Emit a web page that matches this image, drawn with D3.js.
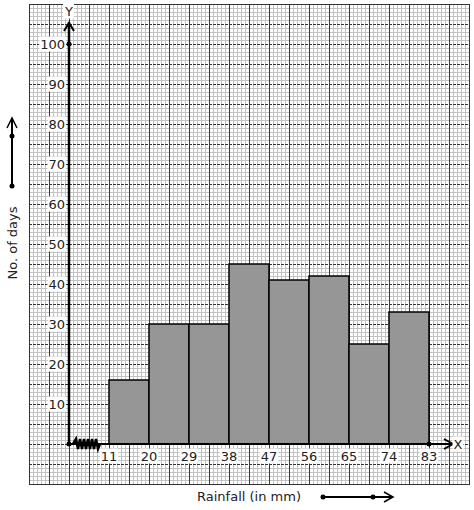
<!DOCTYPE html>
<html>
<head>
<meta charset="utf-8">
<script src="https://cdn.jsdelivr.net/npm/d3@7"></script>
<style>
  body { margin: 0; background: #fff; }
  text { font-family: "DejaVu Sans", sans-serif; fill: #222; }
</style>
</head>
<body>
<div id="chart"></div>
<script>
// class boundaries (mm) and number of days per class
var bounds = [11, 20, 29, 38, 47, 56, 65, 74, 83];
var days = [16, 30, 30, 45, 41, 42, 25, 33];
var yTicks = [10, 20, 30, 40, 50, 60, 70, 80, 90, 100];

var width = 474, height = 510;
var svg = d3.select('#chart').append('svg')
  .attr('width', width).attr('height', height);

// graph paper
var paper = {x0: 29, y0: 4, x1: 469, y1: 484};
var g = svg.append('g');
d3.range(paper.x0, paper.x1 + 1, 4).forEach(function (x, i) {
  if (i % 5 == 0) return;
  g.append('line').attr('x1', x + 0.5).attr('x2', x + 0.5)
    .attr('y1', paper.y0).attr('y2', paper.y1)
    .attr('stroke', '#c2c2c2').attr('stroke-width', 1);
});
d3.range(paper.y0, paper.y1 + 1, 4).forEach(function (y, i) {
  if (i % 5 == 0) return;
  g.append('line').attr('y1', y + 0.5).attr('y2', y + 0.5)
    .attr('x1', paper.x0).attr('x2', paper.x1)
    .attr('stroke', '#c2c2c2').attr('stroke-width', 1);
});
d3.range(paper.x0, paper.x1 + 1, 20).forEach(function (x) {
  g.append('line').attr('x1', x + 0.5).attr('x2', x + 0.5)
    .attr('y1', paper.y0).attr('y2', paper.y1)
    .attr('stroke', '#3a3a3a').attr('stroke-width', 1);
});
d3.range(paper.y0, paper.y1 + 1, 20).forEach(function (y) {
  g.append('line').attr('y1', y + 0.5).attr('y2', y + 0.5)
    .attr('x1', paper.x0).attr('x2', paper.x1)
    .attr('stroke', '#333').attr('stroke-width', 1)
    .attr('stroke-dasharray', '3,1');
});
g.append('rect').attr('x', paper.x0 + 0.5).attr('y', paper.y0 + 0.5)
  .attr('width', paper.x1 - paper.x0).attr('height', paper.y1 - paper.y0)
  .attr('fill', 'none').attr('stroke', '#333');

var x = d3.scaleLinear().domain([11, 83]).range([109, 429]);
var y = d3.scaleLinear().domain([0, 100]).range([444, 44]);
var ox = 69;

// bars
svg.selectAll('.bar')
  .data(days)
  .enter().append('rect')
  .attr('class', 'bar')
  .attr('x', function (d, i) { return x(bounds[i]); })
  .attr('y', function (d) { return y(d); })
  .attr('width', function (d, i) { return x(bounds[i + 1]) - x(bounds[i]); })
  .attr('height', function (d) { return y(0) - y(d); })
  .attr('fill', '#969696').attr('stroke', '#000').attr('stroke-width', 1.5);

// axes
svg.append('line').attr('x1', ox).attr('x2', ox).attr('y1', y(0)).attr('y2', 22)
  .attr('stroke', '#000').attr('stroke-width', 2.5);
svg.append('path').attr('d', 'M' + (ox - 5) + ',31 L' + ox + ',23 L' + (ox + 5) + ',31')
  .attr('fill', 'none').attr('stroke', '#000').attr('stroke-width', 2);
svg.append('line').attr('x1', ox).attr('x2', 454).attr('y1', y(0)).attr('y2', y(0))
  .attr('stroke', '#000').attr('stroke-width', 2);
svg.append('path').attr('d', 'M444,439 L453,' + y(0) + ' L444,449')
  .attr('fill', 'none').attr('stroke', '#000').attr('stroke-width', 2);

// kink on x axis
var zz = 'M73,' + y(0);
d3.range(0, 6).forEach(function (i) {
  var xx = 76 + i * 4;
  zz += ' L' + xx + ',' + (y(0) - 5) + ' L' + (xx + 2) + ',' + (y(0) + 5);
});
zz += ' L100,' + y(0);
svg.append('path').attr('d', zz).attr('fill', 'none')
  .attr('stroke', '#000').attr('stroke-width', 2.5);

// dots
[[ox, y(0)], [ox, y(100)], [x(83), y(0)]].forEach(function (p) {
  svg.append('circle').attr('cx', p[0]).attr('cy', p[1]).attr('r', 2.5).attr('fill', '#000');
});

// label helper with white box
function label(txt, px, py, anchor) {
  var t = svg.append('text').attr('x', px).attr('y', py)
    .attr('text-anchor', anchor).attr('dominant-baseline', 'central')
    .style('font-size', '13px').text(txt);
  var b = t.node().getBBox();
  svg.insert('rect', function () { return t.node(); })
    .attr('x', b.x - 1).attr('y', b.y).attr('width', b.width + 2).attr('height', b.height)
    .attr('fill', '#fff');
}

yTicks.forEach(function (v) { label(v, 65, y(v), 'end'); });
bounds.forEach(function (v) { label(v, x(v), 456, 'middle'); });
label('Y', ox, 11, 'middle');
label('X', 458, y(0), 'middle');

// axis titles
svg.append('text').attr('transform', 'translate(17,243) rotate(-90)')
  .attr('text-anchor', 'middle').style('font-size', '13px').text('No. of days');
svg.append('text').attr('x', 249).attr('y', 501)
  .attr('text-anchor', 'middle').style('font-size', '13px').text('Rainfall (in mm)');

// direction arrows
svg.append('line').attr('x1', 12).attr('x2', 12).attr('y1', 186).attr('y2', 119)
  .attr('stroke', '#000').attr('stroke-width', 2);
svg.append('path').attr('d', 'M7,128 L12,118 L17,128')
  .attr('fill', 'none').attr('stroke', '#000').attr('stroke-width', 1.5);
[[12, 186], [12, 136]].forEach(function (p) {
  svg.append('circle').attr('cx', p[0]).attr('cy', p[1]).attr('r', 2.5).attr('fill', '#000');
});
svg.append('line').attr('x1', 323).attr('x2', 392).attr('y1', 497).attr('y2', 497)
  .attr('stroke', '#000').attr('stroke-width', 2);
svg.append('path').attr('d', 'M384,492 L393,497 L384,502')
  .attr('fill', 'none').attr('stroke', '#000').attr('stroke-width', 1.5);
[[323, 497], [373, 497]].forEach(function (p) {
  svg.append('circle').attr('cx', p[0]).attr('cy', p[1]).attr('r', 2.5).attr('fill', '#000');
});
</script>
</body>
</html>
